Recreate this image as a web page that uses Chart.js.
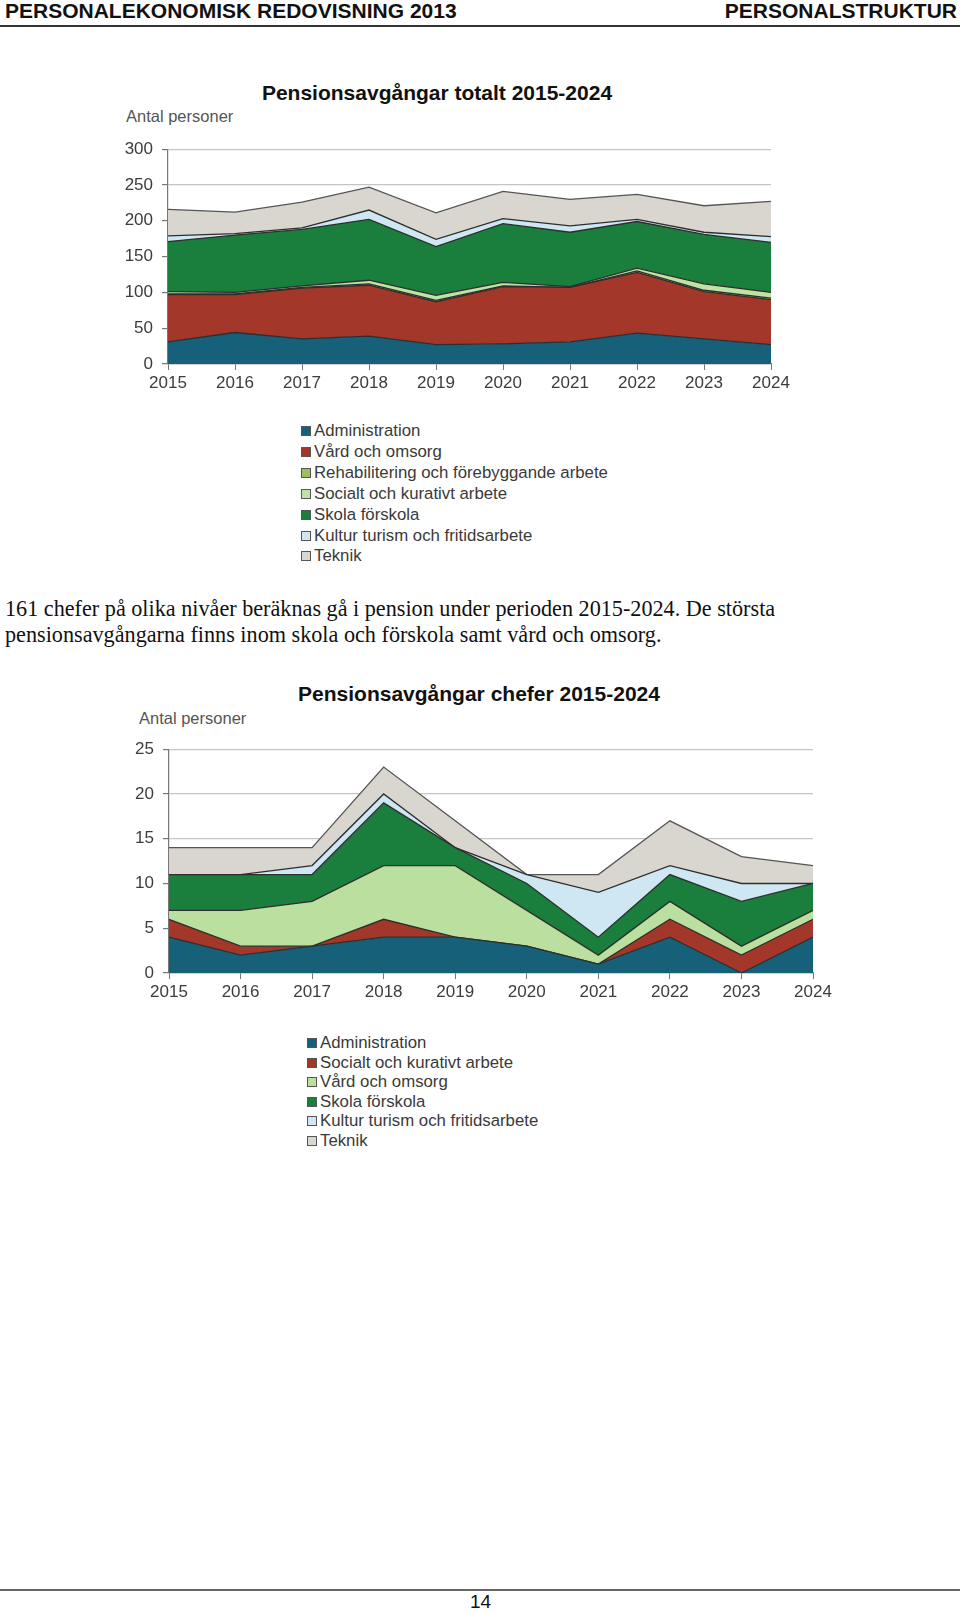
<!DOCTYPE html>
<html>
<head>
<meta charset="utf-8">
<script src="https://cdn.jsdelivr.net/npm/chart.js@4"></script>
<style>
  html, body { margin: 0; padding: 0; background: #fff; }
  body { width: 960px; height: 1613px; position: relative; overflow: hidden; font-family: 'Liberation Sans', Arial, sans-serif; }
  .abs { position: absolute; white-space: nowrap; }
  .hdr { font-weight: bold; font-size: 21px; line-height: 22px; color: #111; top: 0px; }
  .rule { position: absolute; left: 0; width: 960px; }
  .ctitle { font-weight: bold; font-size: 21px; line-height: 22px; color: #111; transform: translateX(-50%); }
  .ylab { font-size: 16.5px; line-height: 18px; color: #555; }
  .para { font-family: 'Liberation Serif', 'Times New Roman', serif; font-size: 22.2px; line-height: 26px; color: #111; left: 5px; }
  .legend { position: absolute; font-size: 16.8px; color: #3a3a3a; }
  .legend .row { position: absolute; left: 0; white-space: nowrap; height: 20px; line-height: 20px; }
  .legend .box { display: inline-block; width: 8px; height: 8px; border: 1px solid #555; margin-right: 3px; vertical-align: 0px; }
  canvas { position: absolute; }
</style>
</head>
<body>

<div class="abs hdr" style="left:5px;">PERSONALEKONOMISK REDOVISNING 2013</div>
<div class="abs hdr" style="right:3px;">PERSONALSTRUKTUR</div>
<div class="rule" style="top:25px;height:2px;background:#333;"></div>

<div class="abs ctitle" style="left:437px;top:82px;">Pensionsavgångar totalt 2015-2024</div>
<div class="abs ylab" style="left:126px;top:107px;">Antal personer</div>
<div id="wrap1" style="position:absolute;left:100px;top:130px;width:710px;height:270px;"><canvas id="totalChart"></canvas></div>
<div class="legend" id="legend1" style="left:301px;top:421px;"></div>

<div class="abs para" style="top:596px;">161 chefer på olika nivåer beräknas gå i pension under perioden 2015-2024. De största</div>
<div class="abs para" style="top:622px;">pensionsavgångarna finns inom skola och förskola samt vård och omsorg.</div>

<div class="abs ctitle" style="left:479px;top:683px;">Pensionsavgångar chefer 2015-2024</div>
<div class="abs ylab" style="left:139px;top:709px;">Antal personer</div>
<div id="wrap2" style="position:absolute;left:100px;top:730px;width:752px;height:279px;"><canvas id="cheferChart"></canvas></div>
<div class="legend" id="legend2" style="left:307px;top:1033px;"></div>

<div class="rule" style="top:1589px;height:2px;background:#666;"></div>
<div class="abs" style="left:470px;top:1592px;font-size:19px;line-height:20px;color:#111;">14</div>

<script>
// years on the x axis
const years = ['2015', '2016', '2017', '2018', '2019', '2020', '2021', '2022', '2023', '2024'];

// Pensionsavgångar totalt (antal personer per område)
const totAdministration = [31, 44, 35, 39, 27, 28, 31, 43, 35, 27];
const totVard = [66, 53, 71, 71, 60, 80, 76, 85, 66, 63];
const totRehab = [1, 1, 1, 2, 2, 1, 0, 2, 2, 2];
const totSocialt = [3, 2, 2, 5, 7, 5, 1, 4, 9, 8];
const totSkola = [70, 80, 79, 85, 68, 82, 76, 65, 69, 70];
const totKultur = [8, 2, 2, 13, 10, 7, 9, 3, 3, 8];
const totTeknik = [37, 30, 36, 32, 37, 38, 37, 35, 37, 49];

// Pensionsavgångar chefer
const chefAdministration = [4, 2, 3, 4, 4, 3, 1, 4, 0, 4];
const chefSocialt = [2, 1, 0, 2, 0, 0, 0, 2, 2, 2];
const chefVard = [1, 4, 5, 6, 8, 4, 1, 2, 1, 1];
const chefSkola = [4, 4, 3, 7, 2, 3, 2, 3, 5, 3];
const chefKultur = [0, 0, 1, 1, 0, 1, 5, 1, 2, 0];
const chefTeknik = [3, 3, 2, 3, 3, 0, 2, 5, 3, 2];

const yTicks1 = [0, 50, 100, 150, 200, 250, 300];
const yTicks2 = [0, 5, 10, 15, 20, 25];

const tickFont = { family: "'Liberation Sans', Arial, sans-serif", size: 17 };

function area(label, data, color, first, line) {
    return {
        label: label,
        data: data,
        backgroundColor: color,
        borderColor: line || '#2e2e2e',
        borderWidth: 1.3,
        pointRadius: 0,
        tension: 0,
        fill: first ? 'origin' : '-1'
    };
}

function buildLegend(id, sets) {
    const el = document.getElementById(id);
    sets.forEach(function (ds, i) {
        const row = document.createElement('div');
        row.className = 'row';
        row.style.top = (i * (id === 'legend1' ? 20.9 : 19.6)) + 'px';
        row.innerHTML = '<span class="box" style="background:' + ds.backgroundColor + '"></span>' + ds.label;
        el.appendChild(row);
    });
}

function makeChart(canvasId, sets, maxY, step, yWidth) {
    return new Chart(document.getElementById(canvasId), {
        type: 'line',
        data: { labels: years, datasets: sets },
        options: {
            responsive: true,
            maintainAspectRatio: false,
            animation: false,
            layout: { padding: { left: 0, right: 39, top: 15, bottom: 0 } },
            plugins: { legend: { display: false }, tooltip: { enabled: false } },
            scales: {
                x: {
                    offset: false,
                    grid: { drawOnChartArea: false, drawTicks: true, tickLength: 6, tickColor: '#777' },
                    border: { color: '#777', width: 1.2 },
                    ticks: { color: '#3c3c3c', font: tickFont, padding: 3, maxRotation: 0, autoSkip: false },
                    afterFit: function (s) { s.height = 36; }
                },
                y: {
                    stacked: true,
                    min: 0,
                    max: maxY,
                    ticks: { stepSize: step, color: '#3c3c3c', font: tickFont, padding: 9 },
                    grid: { color: '#c4c4c4', lineWidth: 1.2, tickLength: 6, tickColor: '#777' },
                    border: { color: '#777', width: 1.2 },
                    afterFit: function (s) { s.width = yWidth; }
                }
            }
        }
    });
}

function start() {
    const sets1 = [
        area('Administration', totAdministration, '#17607A', true),
        area('Vård och omsorg', totVard, '#A3372A'),
        area('Rehabilitering och förebyggande arbete', totRehab, '#9DBE5C'),
        area('Socialt och kurativt arbete', totSocialt, '#BEE3A3'),
        area('Skola förskola', totSkola, '#1A7F3C'),
        area('Kultur turism och fritidsarbete', totKultur, '#CFE7F2'),
        area('Teknik', totTeknik, '#D9D6CF', false, '#555')
    ];
    const sets2 = [
        area('Administration', chefAdministration, '#17607A', true),
        area('Socialt och kurativt arbete', chefSocialt, '#A3372A'),
        area('Vård och omsorg', chefVard, '#BADF9E'),
        area('Skola förskola', chefSkola, '#1A7F3C'),
        area('Kultur turism och fritidsarbete', chefKultur, '#CFE7F2'),
        area('Teknik', chefTeknik, '#D9D6CF', false, '#555')
    ];
    makeChart('totalChart', sets1, yTicks1[yTicks1.length - 1], yTicks1[1] - yTicks1[0], 68);
    makeChart('cheferChart', sets2, yTicks2[yTicks2.length - 1], yTicks2[1] - yTicks2[0], 69);
    buildLegend('legend1', sets1);
    buildLegend('legend2', sets2);
}

window.onload = start;
</script>
</body>
</html>
